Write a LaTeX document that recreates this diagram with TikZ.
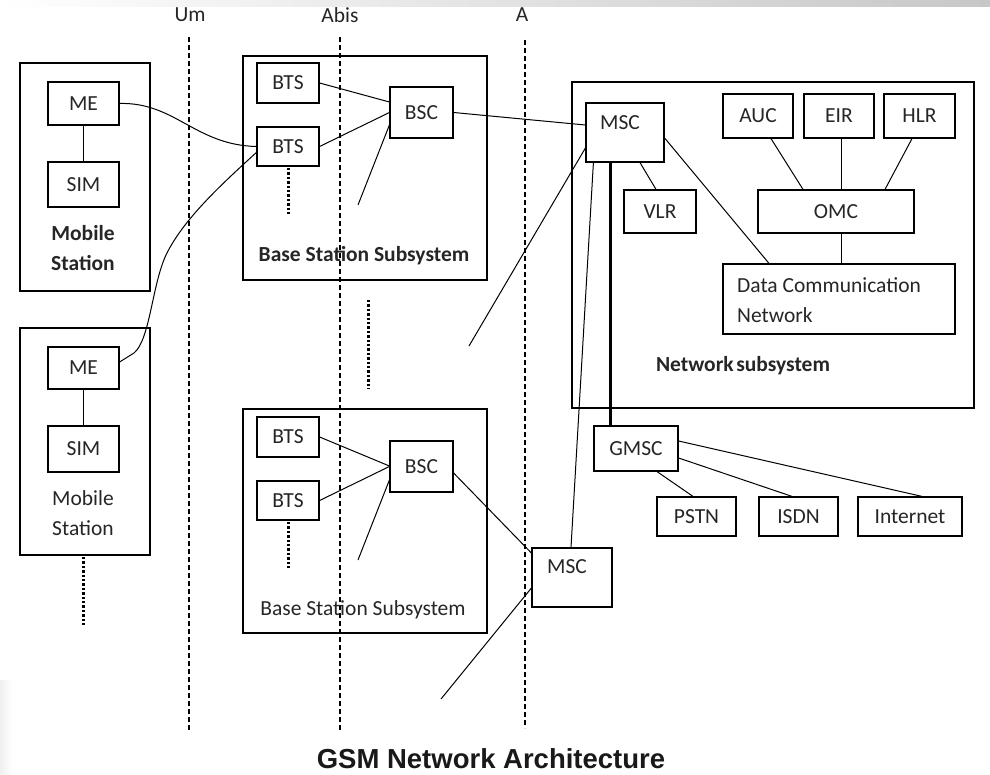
\documentclass[tikz,border=0pt]{standalone}
\usepackage{fontspec}
\setmainfont{Carlito}
\newfontfamily\titlefont{Liberation Sans}
\usetikzlibrary{calc}
\begin{document}
\begin{tikzpicture}[x=1pt,y=-1pt,
  box/.style={draw, line width=1.2pt, inner sep=0pt, text=black!85, font=\fontsize{21.5}{24}\selectfont},
  frame/.style={draw, line width=1.2pt, inner sep=0pt},
  txt/.style={inner sep=0pt, text=black!85, font=\fontsize{21.5}{30}\selectfont, align=center},
  btxt/.style={txt, font=\fontsize{21.5}{30}\selectfont\bfseries},
  conn/.style={line width=1pt},
  thick conn/.style={line width=2.6pt},
  dashline/.style={line width=1.1pt, dash pattern=on 5pt off 3pt},
  dotline/.style={line width=3pt, dash pattern=on 2.4pt off 2pt},
]
\useasboundingbox (0,0) rectangle (990,775);
\fill[white] (0,0) rectangle (990,775);
% decorative gray bands of the original slide
\shade[left color=white, right color=black!22] (0,0) rectangle (990,7);
\shade[left color=black!6, right color=white] (0,680) rectangle (12,775);

% interface lines
\coordinate (um1) at (189,37);  \coordinate (um2) at (189,730);
\coordinate (ab1) at (340,37);  \coordinate (ab2) at (340,730);
\coordinate (aa1) at (525,40);  \coordinate (aa2) at (525,728);
\draw[dashline] (um1) -- (um2);
\draw[dashline] (ab1) -- (ab2);
\draw[dashline] (aa1) -- (aa2);
\node[txt] (lum) at (190,15) {Um};
\node[txt] (labis) at (340,15) {Abis};
\node[txt] (la) at (522,15) {A};

% Mobile stations
\node[frame, minimum width=130pt, minimum height=228pt] (ms1) at (85,177) {};
\node[box, minimum width=71pt, minimum height=43pt] (me1) at (83.5,103.5) {ME};
\node[box, minimum width=71pt, minimum height=45pt] (sim1) at (83.5,184.5) {SIM};
\node[btxt] (ms1t) at (83,248) {Mobile\\Station};
\draw[conn] (me1) -- (sim1);

\node[frame, minimum width=130pt, minimum height=227pt] (ms2) at (85,441.5) {};
\node[box, minimum width=71pt, minimum height=42pt] (me2) at (83.5,368) {ME};
\node[box, minimum width=71pt, minimum height=46pt] (sim2) at (83.5,449) {SIM};
\node[txt] (ms2t) at (83,513) {Mobile\\Station};
\draw[conn] (me2) -- (sim2);
\coordinate (msd1) at (83,557); \coordinate (msd2) at (83,627);
\draw[dotline] (msd1) -- (msd2);

% Base station subsystem 1
\node[frame, minimum width=244pt, minimum height=224pt] (bss1) at (365,168) {};
\node[box, minimum width=62pt, minimum height=40pt] (bts1) at (288,83) {BTS};
\node[box, minimum width=62pt, minimum height=39pt] (bts2) at (288,146.5) {BTS};
\node[box, minimum width=63pt, minimum height=51pt] (bsc1) at (421.5,112.5) {BSC};
\node[btxt] (bss1t) at (364,256) {Base Station Subsystem};
\draw[conn] (bts1.east) -- ($(bsc1.west)+(0,-10.5)$);
\draw[conn] (bts2.east) -- (bsc1.west);
\coordinate (bsc1end) at (358,205);
\draw[conn] ($(bsc1.west)+(0,12.5)$) -- (bsc1end);
\coordinate (b1d1) at (288,168); \coordinate (b1d2) at (288,215);
\draw[dotline] (b1d1) -- (b1d2);

% between subsystems
\coordinate (md1) at (368,300); \coordinate (md2) at (368,389);
\draw[dotline] (md1) -- (md2);

% Base station subsystem 2
\node[frame, minimum width=244pt, minimum height=224pt] (bss2) at (365,521) {};
\node[box, minimum width=62pt, minimum height=40pt] (bts3) at (288,437) {BTS};
\node[box, minimum width=62pt, minimum height=39pt] (bts4) at (288,500.5) {BTS};
\node[box, minimum width=63pt, minimum height=51pt] (bsc2) at (421.5,466.5) {BSC};
\node[txt] (bss2t) at (363,610) {Base Station Subsystem};
\draw[conn] (bts3.east) -- ($(bsc2.west)+(0,-0.5)$);
\draw[conn] (bts4.east) -- (bsc2.west);
\coordinate (bsc2end) at (358,560);
\draw[conn] ($(bsc2.west)+(0,13.5)$) -- (bsc2end);
\coordinate (b2d1) at (288,522); \coordinate (b2d2) at (288,568);
\draw[dotline] (b2d1) -- (b2d2);

% radio links
\draw[conn] (me1.east) .. controls (175,102) and (195,145) .. (bts2.west);
\draw[conn] ($(bts2.west)+(0,6)$) .. controls (215,190) and (182,222) .. (166,255)
   .. controls (152,285) and (150,340) .. (134,353) -- ($(me2.east)+(0,-6)$);

% Network subsystem
\node[frame, minimum width=402pt, minimum height=326pt] (nss) at (773,245) {};
\node[frame, minimum width=78pt, minimum height=59pt] (msc1) at (625,132.5) {};
\node[txt] (msc1t) at (620,123) {MSC};
\node[box, minimum width=70pt, minimum height=44pt] (auc) at (758,116) {AUC};
\node[box, minimum width=70pt, minimum height=44pt] (eir) at (839,116) {EIR};
\node[box, minimum width=71pt, minimum height=44pt] (hlr) at (919.5,116) {HLR};
\node[box, minimum width=156pt, minimum height=43pt] (omc) at (836,211.5) {OMC};
\node[box, minimum width=72pt, minimum height=43pt] (vlr) at (660,211.5) {VLR};
\node[frame, minimum width=232pt, minimum height=70pt] (dcn) at (839,299) {};
\node[txt, anchor=west, align=left] (dcnt) at (737,300) {Data Communication\\Network};
\node[btxt] (nsst) at (743,366) {Network\hspace{0.12em}subsystem};

\draw[conn] ($(msc1.south)+(15,0)$) -- ($(vlr.north)+(-4,0)$);
\draw[conn] ($(msc1.east)+(0,5.5)$) -- ($(dcn.north)+(-70,0)$);
\draw[conn] ($(auc.south)+(13,0)$) -- ($(omc.north)+(-33,0)$);
\draw[conn] ($(eir.south)+(2,0)$) -- ($(omc.north)+(5,0)$);
\draw[conn] ($(hlr.south)+(-7.5,0)$) -- ($(omc.north)+(49,0)$);
\draw[conn] ($(omc.south)+(5,0)$) -- ($(dcn.north)+(2,0)$);

\draw[conn] (bsc1.east) -- ($(msc1.west)+(0,-7.5)$);
\coordinate (msc1end) at (469,346);
\draw[conn] ($(msc1.west)+(0,15.5)$) -- (msc1end);

% GMSC and external networks
\node[box, minimum width=84pt, minimum height=45pt] (gmsc) at (636,448.5) {GMSC};
\node[box, minimum width=79pt, minimum height=39pt] (pstn) at (696.5,516.5) {PSTN};
\node[box, minimum width=79pt, minimum height=39pt] (isdn) at (798.5,516.5) {ISDN};
\node[box, minimum width=104pt, minimum height=39pt] (inet) at (910,516.5) {Internet};
\draw[thick conn] ($(msc1.south west)+(25,0)$) -- ($(gmsc.north west)+(17,0)$);
\draw[conn] ($(gmsc.south)+(21,0)$) -- ($(pstn.north)+(-3.5,0)$);
\draw[conn] ($(gmsc.east)+(0,9.5)$) -- ($(isdn.north)+(-6.5,0)$);
\draw[conn] ($(gmsc.east)+(0,-7.5)$) -- ($(inet.north)+(12,0)$);

% second MSC
\node[frame, minimum width=80pt, minimum height=59pt] (msc2) at (572,577.5) {};
\node[txt] (msc2t) at (567,567) {MSC};
\draw[conn] ($(msc1.south west)+(8,0)$) -- ($(msc2.north)+(-1,0)$);
\draw[conn] ($(bsc2.east)+(0,6.5)$) -- ($(msc2.west)+(0,-24.5)$);
\coordinate (msc2end) at (441,699);
\draw[conn] ($(msc2.west)+(0,10.5)$) -- (msc2end);

% title
\node[inner sep=0pt, anchor=base, font=\titlefont\fontsize{27.5}{30}\selectfont\bfseries, text=black!90] (title) at (491,768) {GSM Network Architecture};
\end{tikzpicture}
\end{document}
